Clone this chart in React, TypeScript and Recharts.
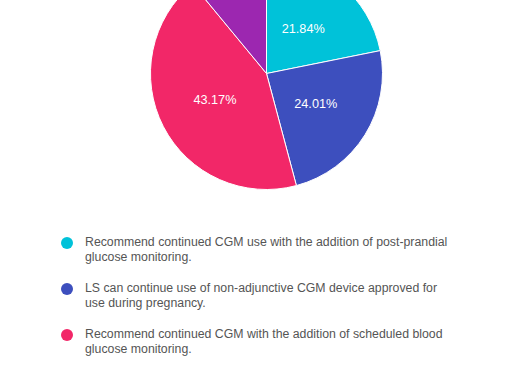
import * as React from 'react';
import { PieChart, Pie, Cell, Legend } from 'recharts';

const names = [
  'Recommend continued CGM use with the addition of post-prandial glucose monitoring.',
  'LS can continue use of non-adjunctive CGM device approved for use during pregnancy.',
  'Recommend continued CGM with the addition of scheduled blood glucose monitoring.',
  'Other',
];
const values = [21.84, 24.01, 43.17, 10.98];
const colors = ['#00c2d9', '#3d4fbe', '#f22768', '#9c27b0'];
// the last slice has no label shown in the chart, and its legend row lies below the view
const showLabel = [true, true, true, false];
const legendCount = 3;

const data = names.map((name, i) => ({ name, value: values[i] }));

const RAD = Math.PI / 180;
const OFFSET = 100;
const FONT = "'Liberation Sans', Arial, sans-serif";

const renderLabel = ({ cx, cy, midAngle, value, index }: any) => {
  if (!showLabel[index]) return null;
  const r = 58;
  const x = cx + r * Math.cos(-midAngle * RAD);
  const y = cy + r * Math.sin(-midAngle * RAD);
  return (
    <text
      x={x}
      y={y}
      fill="#fff"
      textAnchor="middle"
      dominantBaseline="central"
      fontSize={12.7}
      fontFamily={FONT}
    >
      {value.toFixed(2)}%
    </text>
  );
};

const renderLegend = () => (
  <div style={{ fontFamily: FONT, fontSize: 12.3, color: '#555' }}>
    {names.slice(0, legendCount).map((name, i) => (
      <div key={i} style={{ position: 'relative', height: 46, paddingLeft: 85, width: 368, lineHeight: '15px' }}>
        <span
          style={{
            position: 'absolute',
            left: 61,
            top: 2,
            width: 12,
            height: 12,
            borderRadius: '50%',
            background: colors[i],
          }}
        />
        {name}
      </div>
    ))}
  </div>
);

export default function App(): React.JSX.Element {
  return (
    <div
      style={{
        position: 'fixed',
        left: 0,
        top: 0,
        width: 523,
        height: 372,
        overflow: 'hidden',
        background: '#fff',
      }}
    >
      <div style={{ position: 'absolute', left: 0, top: -OFFSET }}>
        <PieChart
          width={523}
          height={372 + OFFSET}
          margin={{ top: 0, right: 0, bottom: 0, left: 0 }}
        >
          <Pie
            data={data}
            dataKey="value"
            nameKey="name"
            cx={266.5}
            cy={73.5 + OFFSET}
            outerRadius={116}
            startAngle={90}
            endAngle={-270}
            stroke="#fff"
            strokeWidth={1}
            label={renderLabel}
            labelLine={false}
            isAnimationActive={false}
          >
            {data.map((d, i) => (
              <Cell key={d.name} fill={colors[i]} />
            ))}
          </Pie>
          <Legend
            content={renderLegend}
            wrapperStyle={{ left: 0, top: OFFSET + 235, width: 523 }}
          />
        </PieChart>
      </div>
    </div>
  );
}
